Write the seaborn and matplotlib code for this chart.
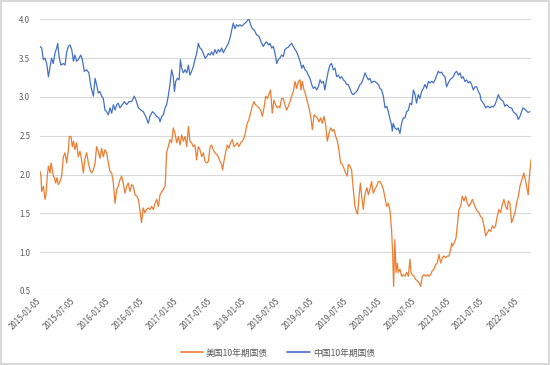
import numpy as np
import pandas as pd
import seaborn as sns
import matplotlib.pyplot as plt

# values; x = days since 2015-01-05
start = pd.Timestamp('2015-01-05')

us_days = [0, 5, 9, 18, 27, 32, 39, 45, 54, 59, 66, 71, 77, 84, 91, 98, 107, 116, 125, 134,
           143, 152, 157, 166, 173, 180, 187, 196, 205, 214, 223, 232, 241, 250, 259, 268, 277, 286, 295, 303,
           312, 321, 330, 339, 348, 357, 366, 375, 384, 393, 402, 411, 419, 428, 437, 446, 455, 464, 473, 482,
           491, 500, 509, 518, 527, 535, 544, 553, 562, 571, 580, 589, 598, 607, 616, 625, 634, 643,
           652, 661, 670, 673, 678, 687, 696, 705, 714, 723, 732, 741, 750, 759, 768, 777, 786, 795, 803, 812,
           821, 830, 839, 848, 857, 866, 875, 884, 893, 902, 911, 919, 928, 937, 946, 955, 964, 973, 978, 985,
           994, 1003, 1012, 1021, 1030, 1039, 1048, 1057, 1066, 1075, 1084, 1093, 1102, 1110, 1119, 1128, 1137, 1146,
           1155, 1164, 1173, 1182, 1191, 1200, 1209, 1218, 1226, 1235, 1244, 1253, 1262, 1271, 1280, 1285,
           1294, 1303, 1312, 1321, 1330, 1339, 1348, 1357, 1366, 1375, 1384, 1393, 1398, 1405, 1414, 1423, 1432,
           1441, 1450, 1459, 1468, 1477, 1485, 1494, 1503, 1512, 1521, 1530, 1539, 1548, 1557, 1566, 1575, 1584,
           1593, 1601, 1610, 1619, 1628, 1637, 1646, 1651, 1660, 1669, 1678, 1687, 1696, 1701, 1709, 1716, 1723,
           1732, 1737, 1744, 1751, 1759, 1767, 1776, 1785, 1794, 1803, 1812, 1821, 1830, 1839, 1848, 1857, 1866,
           1875, 1883, 1889, 1894, 1901, 1907, 1914, 1919, 1928,
           1937, 1946, 1955, 1964, 1973, 1982, 1987, 1994, 2003, 2012, 2021, 2030, 2039, 2048, 2057, 2066, 2075,
           2084, 2092, 2101, 2110, 2119, 2128, 2137, 2146, 2155, 2164, 2173, 2182, 2191, 2200, 2205, 2210, 2219,
           2228, 2237, 2244, 2253, 2262, 2271, 2280, 2289, 2298, 2307, 2316, 2324, 2333, 2342, 2351, 2360, 2369,
           2378, 2387, 2396, 2405, 2414, 2423, 2432, 2440, 2449, 2458, 2467, 2476, 2485, 2494, 2503, 2508, 2517,
           2526, 2535, 2544, 2553, 2562, 2571, 2592, 2603, 2615, 2619, 2630]
us_vals = [2.04, 1.98, 1.78, 1.85, 1.68, 1.74, 1.98, 2.11, 2.02, 2.15, 2.06, 1.98, 1.96, 1.89, 1.96, 1.87, 1.91, 1.98, 2.23, 2.28,
           2.15, 2.32, 2.49, 2.49, 2.36, 2.43, 2.32, 2.41, 2.23, 2.30, 2.19, 2.02, 2.21, 2.28, 2.15, 2.06, 2.02, 2.06, 2.15, 2.36,
           2.30, 2.21, 2.34, 2.23, 2.32, 2.28, 2.15, 2.04, 2.02, 1.89, 1.63, 1.81, 1.85, 1.93, 1.98, 1.89, 1.76, 1.85, 1.89, 1.78,
           1.87, 1.85, 1.74, 1.72, 1.68, 1.55, 1.38, 1.57, 1.51, 1.55, 1.57, 1.55, 1.59, 1.55, 1.63, 1.68, 1.59, 1.74,
           1.78, 1.81, 1.85, 1.98, 2.28, 2.36, 2.45, 2.41, 2.60, 2.53, 2.41, 2.49, 2.38, 2.51, 2.43, 2.49, 2.36, 2.62, 2.43, 2.41,
           2.36, 2.38, 2.19, 2.36, 2.32, 2.23, 2.28, 2.17, 2.15, 2.17, 2.36, 2.38, 2.32, 2.28, 2.26, 2.23, 2.17, 2.13, 2.06, 2.17,
           2.28, 2.38, 2.34, 2.41, 2.45, 2.36, 2.38, 2.41, 2.36, 2.41, 2.43, 2.47, 2.56, 2.66, 2.71, 2.79, 2.88, 2.94,
           2.90, 2.88, 2.86, 2.83, 2.75, 2.86, 3.01, 2.98, 3.03, 3.09, 2.79, 2.96, 2.90, 2.86, 2.88, 2.86,
           2.98, 2.98, 2.90, 2.83, 2.88, 2.94, 3.01, 3.07, 3.20, 3.11, 3.20, 3.22, 3.09, 3.20, 3.09, 3.03, 2.94,
           2.86, 2.75, 2.58, 2.77, 2.75, 2.73, 2.68, 2.73, 2.66, 2.75, 2.64, 2.43, 2.53, 2.60, 2.56, 2.58, 2.49,
           2.43, 2.32, 2.15, 2.13, 2.08, 2.02, 1.98, 2.13, 2.11, 2.06, 1.81, 1.59, 1.51, 1.49, 1.72, 1.89, 1.72,
           1.55, 1.68, 1.78, 1.83, 1.74, 1.81, 1.91, 1.76, 1.81, 1.85, 1.91, 1.91, 1.87, 1.81, 1.70, 1.59, 1.63,
           1.53, 1.29, 0.99, 0.56, 1.16, 0.74, 0.86, 0.74, 0.78,
           0.69, 0.71, 0.69, 0.74, 0.69, 0.91, 0.74, 0.71, 0.69, 0.65, 0.63, 0.61, 0.56, 0.69, 0.71, 0.69, 0.71,
           0.69, 0.71, 0.76, 0.78, 0.84, 0.86, 0.97, 0.86, 0.93, 0.95, 0.93, 0.95, 0.95, 1.04, 1.12, 1.08, 1.12,
           1.18, 1.38, 1.55, 1.59, 1.72, 1.66, 1.72, 1.63, 1.59, 1.63, 1.68, 1.63, 1.57, 1.53, 1.51, 1.46, 1.44,
           1.34, 1.21, 1.25, 1.29, 1.27, 1.34, 1.31, 1.34, 1.46, 1.55, 1.51, 1.61, 1.68, 1.59, 1.55, 1.66, 1.63,
           1.38, 1.44, 1.51, 1.63, 1.72, 1.85, 2.02, 1.89, 1.74, 1.90, 2.19]

cn_days = [0, 9, 18, 27, 36, 45, 54, 62, 71, 80, 89, 95, 102, 112, 125, 134, 143, 152, 161, 170,
           179, 187, 196, 205, 218, 227, 237, 250, 262, 273, 286, 295, 303, 312, 321, 330, 339, 348, 357, 366,
           375, 384, 393, 402, 411, 419, 428, 441, 452, 464, 477, 491, 505, 514, 527, 541, 553, 566, 580, 589,
           602, 612, 625, 637, 643,
           652, 661, 670, 678, 687, 696, 705, 714, 720, 727, 736, 745, 752, 759, 768, 777, 786, 795, 803, 812,
           821, 830, 839, 848, 857, 866, 875, 884, 893, 902, 911, 919, 928, 937, 946, 955, 964, 973, 982, 991,
           1000, 1009, 1018, 1027, 1035, 1044, 1053, 1062, 1071, 1080, 1089, 1098, 1107, 1119, 1128, 1137, 1148,
           1160, 1173, 1184, 1196, 1205, 1214, 1223, 1232, 1241, 1250, 1259, 1268, 1276, 1285,
           1294, 1303, 1312, 1321, 1330, 1339, 1348, 1357, 1366, 1375, 1384, 1393, 1402, 1410, 1419, 1428, 1437,
           1446, 1455, 1464, 1473, 1482, 1491, 1500, 1509, 1518, 1526, 1535, 1544, 1553, 1562, 1571, 1580, 1589,
           1598, 1607, 1616, 1625, 1634, 1643, 1651, 1660, 1669, 1678, 1687, 1696, 1705, 1714, 1723, 1732, 1741,
           1750, 1759, 1767, 1776, 1785, 1794, 1803, 1812, 1821, 1830, 1839, 1848, 1857, 1866, 1875, 1883, 1887,
           1892, 1901, 1910, 1919, 1928,
           1937, 1946, 1955, 1964, 1973, 1982, 1991, 2000, 2009, 2017, 2026, 2035, 2044, 2053, 2062, 2071, 2080,
           2089, 2098, 2107, 2116, 2125, 2133, 2142, 2151, 2160, 2169, 2178, 2187, 2196, 2205, 2214, 2223, 2232,
           2241, 2250, 2258, 2267, 2276, 2285, 2294, 2303, 2312, 2321, 2330, 2339, 2348, 2357, 2362, 2369, 2380,
           2387, 2398, 2410, 2419, 2428, 2437, 2446, 2455, 2464, 2473, 2482, 2490, 2499, 2508, 2517, 2526, 2535,
           2544, 2553, 2562, 2571, 2587, 2598, 2614, 2624]
cn_vals = [3.65, 3.63, 3.48, 3.50, 3.43, 3.26, 3.39, 3.50, 3.43, 3.56, 3.63, 3.69, 3.52, 3.41, 3.43, 3.41, 3.58, 3.65, 3.67, 3.61,
           3.46, 3.54, 3.46, 3.48, 3.54, 3.48, 3.33, 3.35, 3.31, 3.13, 3.01, 3.24, 3.16, 3.05, 3.07, 3.01, 2.98, 2.83, 2.81, 2.77,
           2.86, 2.79, 2.90, 2.83, 2.90, 2.92, 2.86, 2.90, 2.94, 2.90, 2.94, 2.94, 3.01, 2.96, 2.86, 2.83, 2.81, 2.75, 2.66, 2.75,
           2.81, 2.79, 2.75, 2.73, 2.68,
           2.75, 2.77, 2.86, 2.90, 3.01, 3.16, 3.35, 3.26, 3.07, 3.20, 3.24, 3.22, 3.48, 3.37, 3.31, 3.35, 3.31, 3.41, 3.28, 3.33,
           3.39, 3.48, 3.56, 3.69, 3.63, 3.61, 3.56, 3.50, 3.52, 3.56, 3.54, 3.58, 3.54, 3.61, 3.56, 3.61, 3.58, 3.63, 3.57, 3.61,
           3.65, 3.69, 3.76, 3.86, 3.95, 3.88, 3.93, 3.91, 3.93, 3.91, 3.93, 3.95, 3.97, 4.01, 3.93, 3.88, 3.86,
           3.80, 3.78, 3.71, 3.65, 3.69, 3.71, 3.67, 3.69, 3.63, 3.65, 3.56, 3.43, 3.48, 3.50,
           3.54, 3.52, 3.61, 3.63, 3.64, 3.67, 3.69, 3.65, 3.61, 3.58, 3.52, 3.46, 3.37, 3.41, 3.35, 3.33, 3.28,
           3.24, 3.16, 3.11, 3.13, 3.09, 3.13, 3.22, 3.18, 3.20, 3.09, 3.22, 3.33, 3.41, 3.43, 3.35, 3.37, 3.26,
           3.28, 3.24, 3.26, 3.22, 3.20, 3.16, 3.16, 3.11, 3.05, 3.03, 3.05, 3.07, 3.11, 3.16, 3.18, 3.24, 3.31,
           3.26, 3.22, 3.24, 3.18, 3.20, 3.20, 3.18, 3.16, 3.11, 3.09, 3.01, 2.86, 2.88, 2.81, 2.71, 2.64, 2.56,
           2.66, 2.60, 2.58, 2.60, 2.53,
           2.66, 2.73, 2.73, 2.81, 2.83, 2.92, 2.90, 3.09, 3.03, 2.92, 3.03, 2.98, 3.07, 3.11, 3.16, 3.11, 3.20,
           3.18, 3.20, 3.18, 3.22, 3.28, 3.33, 3.31, 3.32, 3.28, 3.26, 3.13, 3.18, 3.22, 3.24, 3.26, 3.31, 3.33,
           3.28, 3.31, 3.24, 3.26, 3.20, 3.22, 3.18, 3.20, 3.16, 3.09, 3.13, 3.13, 3.07, 3.03, 2.96, 2.94, 2.90,
           2.86, 2.88, 2.86, 2.88, 2.87, 2.90, 2.96, 3.03, 2.98, 2.96, 2.94, 2.88, 2.90, 2.88, 2.86, 2.86, 2.81,
           2.79, 2.77, 2.71, 2.75, 2.86, 2.84, 2.80, 2.81]

us_name = '美国10年期国债'
cn_name = '中国10年期国债'
tick_labels = ['2015-01-05', '2015-07-05', '2016-01-05', '2016-07-05', '2017-01-05',
               '2017-07-05', '2018-01-05', '2018-07-05', '2019-01-05', '2019-07-05',
               '2020-01-05', '2020-07-05', '2021-01-05', '2021-07-05', '2022-01-05']
y_ticks = [0.5, 1.0, 1.5, 2.0, 2.5, 3.0, 3.5, 4.0]

us = pd.DataFrame({'date': start + pd.to_timedelta(us_days, unit='D'), 'rate': us_vals, 'series': us_name})
cn = pd.DataFrame({'date': start + pd.to_timedelta(cn_days, unit='D'), 'rate': cn_vals, 'series': cn_name})
df = pd.concat([us, cn], ignore_index=True)

sns.set_theme(style='white')
plt.rcParams['font.family'] = ['Noto Sans CJK SC', 'DejaVu Sans']

fig = plt.figure(figsize=(5.5, 3.65), dpi=100)
fig.patch.set_edgecolor('#D9D9D9')
fig.patch.set_linewidth(1.5)
ax = fig.add_axes([40 / 550, 1 - 291 / 365, 491 / 550, (291 - 19.3) / 365])

sns.lineplot(data=df, x='date', y='rate', hue='series', estimator=None, sort=False,
             palette={us_name: '#ED7D31', cn_name: '#4472C4'}, linewidth=0.9,
             legend=False, ax=ax)

ax.set_ylim(0.5, 4.0)
ax.set_xlim(df['date'].min(), df['date'].max())
ax.set_yticks(y_ticks)
ax.set_yticklabels([f'{v:.1f}' for v in y_ticks])
ax.set_xticks(pd.to_datetime(tick_labels))
ax.set_xticklabels(tick_labels, rotation=45, ha='right', va='center', rotation_mode='anchor')
ax.tick_params(axis='both', length=0, labelsize=5.7, labelcolor='#595959')
ax.tick_params(axis='y', pad=7)
ax.tick_params(axis='x', pad=6)
ax.set_xlabel('')
ax.set_ylabel('')
ax.grid(axis='y', color='#D9D9D9', linewidth=0.8)
ax.grid(axis='x', visible=False)
for s in ax.spines.values():
    s.set_visible(False)

handles = [plt.Line2D([], [], color='#ED7D31', lw=1.2), plt.Line2D([], [], color='#4472C4', lw=1.2)]
fig.legend(handles, [us_name, cn_name], loc='center', bbox_to_anchor=(0.505, 0.033), ncol=2,
           frameon=False, fontsize=6.3, labelcolor='#595959', handlelength=2.6,
           handletextpad=0.3, columnspacing=2.2)

fig.savefig('out.png', dpi=100)
